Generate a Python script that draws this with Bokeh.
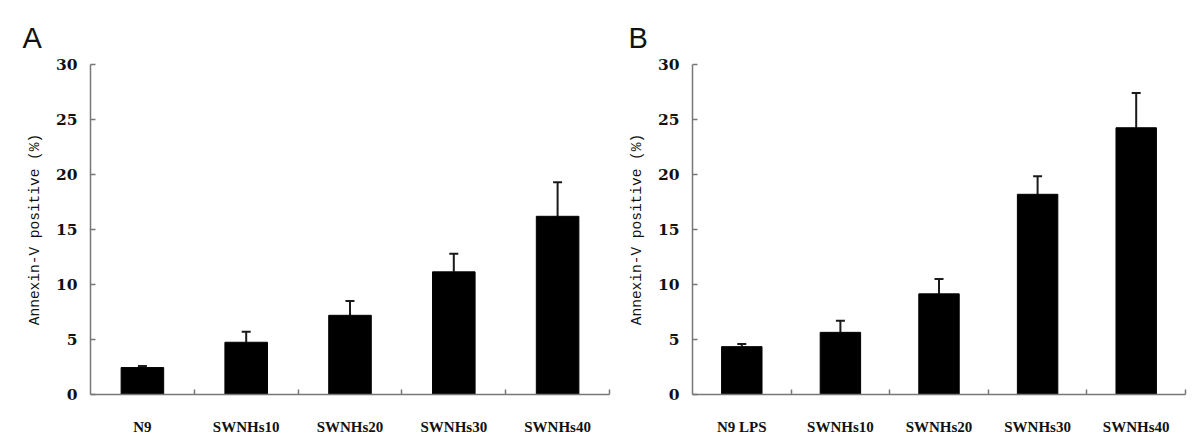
from bokeh.plotting import figure
from bokeh.layouts import row
from bokeh.models import ColumnDataSource, FixedTicker, Whisker, TeeHead, Range1d
from bokeh.embed import file_html
from bokeh.resources import INLINE

cats_a = ["N9", "SWNHs10", "SWNHs20", "SWNHs30", "SWNHs40"]
means_a = [2.45, 4.75, 7.2, 11.15, 16.2]
errs_a = [0.15, 0.95, 1.3, 1.65, 3.1]

cats_b = ["N9 LPS", "SWNHs10", "SWNHs20", "SWNHs30", "SWNHs40"]
means_b = [4.35, 5.65, 9.15, 18.2, 24.25]
errs_b = [0.25, 1.05, 1.35, 1.65, 3.15]

y_ticks = [0, 5, 10, 15, 20, 25, 30]
y_label = "Annexin-V positive (%)"

FRAME_H = 332
TOP = 64
BOTTOM = 41


def panel(cats, means, errs, letter, width, border_left, border_right, lab_off):
    n = len(cats)
    xs = [i + 0.5 for i in range(n)]
    src = ColumnDataSource(dict(x=xs, top=means,
                                upper=[m + e for m, e in zip(means, errs)],
                                lower=means))
    p = figure(width=width, height=TOP + FRAME_H + BOTTOM, output_backend="svg",
               toolbar_location=None,
               x_range=Range1d(0, n), y_range=Range1d(0, 30),
               min_border_left=border_left, min_border_right=border_right,
               min_border_top=TOP, min_border_bottom=BOTTOM)
    p.outline_line_color = None
    p.grid.visible = False
    p.vbar(x="x", top="top", width=0.41, bottom=0, source=src,
           fill_color="black", line_color="black")
    w = Whisker(base="x", upper="upper", lower="lower", source=src,
                line_color="#1a1a1a", line_width=2,
                upper_head=TeeHead(size=9, line_width=2, line_color="#1a1a1a"),
                lower_head=None)
    p.add_layout(w)

    xa = p.xaxis[0]
    xa.ticker = FixedTicker(ticks=xs, minor_ticks=list(range(1, n + 1)))
    xa.major_label_overrides = {x: c for x, c in zip(xs, cats)}
    xa.major_tick_in = 0
    xa.major_tick_out = 0
    xa.minor_tick_in = 5
    xa.minor_tick_out = 0
    xa.axis_line_color = "#777777"
    xa.axis_line_width = 1.5
    xa.minor_tick_line_color = "#777777"
    xa.minor_tick_line_width = 1.5
    xa.major_label_text_font = "Liberation Serif"
    xa.major_label_text_font_style = "bold"
    xa.major_label_text_font_size = "15px"
    xa.major_label_text_color = "#111111"
    xa.major_label_standoff = 24

    ya = p.yaxis[0]
    ya.ticker = FixedTicker(ticks=y_ticks)
    ya.major_tick_in = 5
    ya.major_tick_out = 0
    ya.minor_tick_line_color = None
    ya.axis_line_color = "#777777"
    ya.axis_line_width = 1.5
    ya.major_tick_line_color = "#777777"
    ya.major_tick_line_width = 1.5
    ya.major_label_text_font = "DejaVu Serif"
    ya.major_label_text_font_style = "bold"
    ya.major_label_text_font_size = "15.5px"
    ya.major_label_text_color = "#111111"
    ya.major_label_standoff = 13
    ya.axis_label = y_label
    ya.axis_label_text_font = "Liberation Mono"
    ya.axis_label_text_font_style = "normal"
    ya.axis_label_text_font_size = "14.5px"
    ya.axis_label_text_color = "#111111"
    ya.axis_label_standoff = 10

    p.title.text = letter
    p.title.align = "left"
    p.title.offset = lab_off
    p.title.text_font = "Liberation Sans"
    p.title.text_font_style = "normal"
    p.title.text_font_size = "29px"
    p.title.text_color = "#111111"
    p.title.standoff = 22
    return p


pa = panel(cats_a, means_a, errs_a, "A", 618, 90, 9, -68)
pb = panel(cats_b, means_b, errs_b, "B", 574, 74, 7, -64)
layout = row(pa, pb)
open("out.html", "w").write(file_html(layout, INLINE))
